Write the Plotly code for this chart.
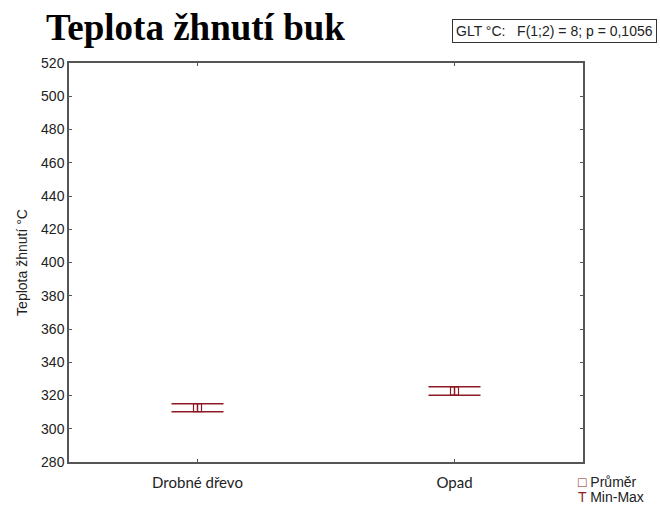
import plotly.graph_objects as go

# data
kategorie = ['Drobné dřevo', 'Opad']
prumer = [312.7, 322.7]
minimum = [310.2, 320.1]
maximum = [315.1, 325.2]

y_ticks = list(range(280, 521, 20))

barva = '#8b1a24'

fig = go.Figure()

fig.add_trace(go.Scatter(
    x=kategorie,
    y=prumer,
    mode='markers',
    marker=dict(symbol='square-open', size=8, color=barva, line=dict(width=1.2, color=barva)),
    error_y=dict(
        type='data',
        symmetric=False,
        array=[mx - p for mx, p in zip(maximum, prumer)],
        arrayminus=[p - mn for mn, p in zip(minimum, prumer)],
        color=barva,
        thickness=1.5,
        width=26,
    ),
    showlegend=False,
))

fig.update_layout(
    width=660,
    height=506,
    margin=dict(l=69, r=77, t=63, b=43.5),
    plot_bgcolor='white',
    paper_bgcolor='white',
    font=dict(family='Liberation Sans, Arial', size=13, color='#222222'),
    xaxis=dict(
        range=[-0.5, 1.5],
        showgrid=False,
        showline=True, linecolor='#555555', linewidth=1.5, mirror='ticks',
        ticks='inside', ticklen=3, tickcolor='#555555',
        ticklabelstandoff=6,
        tickfont=dict(family='Lato, Open Sans', size=15, color='#222222'),
    ),
    yaxis=dict(
        range=[280, 520],
        tickvals=y_ticks,
        showgrid=False, zeroline=False,
        showline=True, linecolor='#555555', linewidth=1.5, mirror='ticks',
        ticks='inside', ticklen=3, tickcolor='#555555',
        title=dict(text='Teplota žhnutí °C', font=dict(size=14, color='#222222'), standoff=10),
        tickfont=dict(size=14, color='#222222'),
    ),
    annotations=[
        # nadpis
        dict(text='<b>Teplota žhnutí buk</b>', xref='paper', yref='paper',
             x=-0.049, y=1.088, xanchor='left', yanchor='middle', showarrow=False,
             font=dict(family='Liberation Serif, Times New Roman', size=37, color='black')),
        # statistika v rámečku
        dict(text='GLT °C:&nbsp;&nbsp; F(1;2) = 8; p = 0,1056', xref='paper', yref='paper',
             x=1.144, y=1.079, xanchor='right', yanchor='middle', showarrow=False,
             font=dict(size=14, color='#222222'),
             bordercolor='#333333', borderwidth=1, borderpad=3, bgcolor='white'),
        # legenda
        dict(text="<span style='color:%s'>□</span> Průměr" % barva, xref='paper', yref='paper',
             x=0.986, y=-0.051, xanchor='left', yanchor='middle', showarrow=False,
             font=dict(size=14, color='#222222')),
        dict(text="<span style='color:%s'>T</span> Min-Max" % barva, xref='paper', yref='paper',
             x=0.986, y=-0.087, xanchor='left', yanchor='middle', showarrow=False,
             font=dict(size=14, color='#222222')),
    ],
)

# bez okraje stranky, aby graf sedel presne do okna
fig.write_html("out.html", config={'displayModeBar': False},
               post_script="document.body.style.margin='0';")
